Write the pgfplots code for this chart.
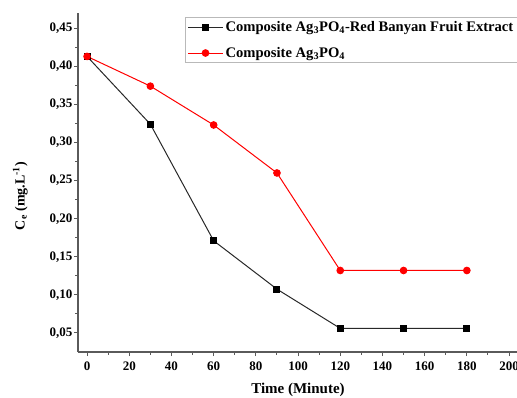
\documentclass[border=0pt]{standalone}
\usepackage{pgfplots}
\pgfplotsset{compat=1.18}
\usepackage{fontspec}
\setmainfont{Liberation Serif}
\definecolor{axgray}{RGB}{90,90,90}
\definecolor{blk}{RGB}{40,40,40}
\begin{document}
\begin{tikzpicture}[x=1pt,y=1pt]
\path[use as bounding box, clip] (0,0) rectangle (517,397);
\begin{axis}[
  at={(78pt,45pt)}, anchor=south west,
  scale only axis, width=439.5pt, height=339pt,
  xmin=-4.3, xmax=204, ymin=0.025, ymax=0.47,
  axis x line=bottom, axis y line=left,
  axis line style={-, axgray, line width=1.2pt},
  xtick={0,20,...,200}, ytick={0.05,0.10,...,0.46},
  minor x tick num=1, minor y tick num=1,
  tick align=outside,
  major tick length=4pt, minor tick length=2.5pt,
  tick style={axgray, line width=1pt},
  /pgf/number format/assume math mode=true,
  /pgf/number format/use comma,
  yticklabel style={/pgf/number format/fixed, /pgf/number format/fixed zerofill, /pgf/number format/precision=2, font=\fontsize{13}{14}\selectfont\bfseries, xshift=2pt},
  xticklabel style={font=\fontsize{13}{14}\selectfont\bfseries, yshift=-2pt},
  xlabel={\textbf{Time (Minute)}},
  ylabel={\textbf{C\textsubscript{e} (mg.L\textsuperscript{-1})}},
  xlabel style={at={(rel axis cs:0.5006,-0.112)}, anchor=center, font=\fontsize{15}{16}\selectfont},
  ylabel style={at={(rel axis cs:-0.1315,0.46)}, anchor=center, font=\fontsize{14}{16}\selectfont},
  legend style={at={(rel axis cs:0.2435,0.988)}, anchor=north west, draw=gray!55, line width=1pt,
    font=\fontsize{14.6}{16}\selectfont\bfseries, row sep=10pt, inner xsep=2pt, inner ysep=2pt,
    /tikz/every even column/.append style={column sep=2pt}},
  legend cell align=left,
  legend image code/.code={\draw[mark repeat=2,mark phase=2,#1] plot coordinates {(0pt,0pt) (17.5pt,0pt) (35pt,0pt)};},
  legend image post style={line width=1pt},
]
\addplot[blk, line width=1pt, mark=square*, mark size=3pt, mark options={fill=black, draw=black}] coordinates {
(0,0.413) (30,0.324) (60,0.171) (90,0.1075) (120,0.056) (150,0.056) (180,0.056)};
\addlegendentry{Composite Ag\textsubscript{3}PO\textsubscript{4}-Red Banyan Fruit Extract}
\addplot[red, line width=1pt, mark=*, mark size=3.3pt, mark options={fill=red, draw=red}] coordinates {
(0,0.413) (30,0.374) (60,0.323) (90,0.260) (120,0.132) (150,0.132) (180,0.132)};
\addlegendentry{Composite Ag\textsubscript{3}PO\textsubscript{4}}
\end{axis}
\end{tikzpicture}
\end{document}
